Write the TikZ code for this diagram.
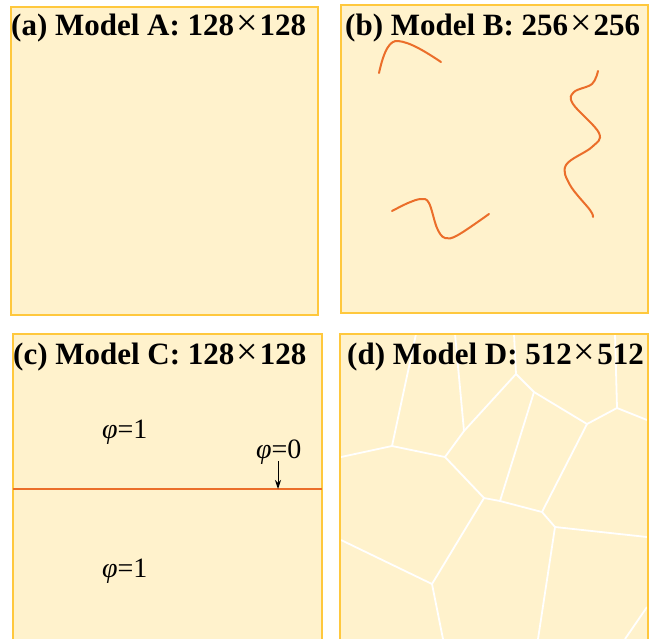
\documentclass[tikz,border=0pt]{standalone}
\usepackage{fontspec}
\setmainfont{Liberation Serif}
\usetikzlibrary{arrows.meta}
\definecolor{panelfill}{HTML}{FFF2CC}
\definecolor{panelborder}{HTML}{FFC83D}
\definecolor{curveorange}{HTML}{EB6E2A}
\tikzset{
  panel/.style={fill=panelfill, draw=panelborder, line width=1.8pt},
  paneltitle/.style={anchor=base west, inner sep=0pt, font=\fontsize{31}{31}\selectfont\bfseries},
  philabel/.style={anchor=base west, inner sep=0pt, font=\fontsize{28}{28}\selectfont},
  crack/.style={draw=curveorange, line width=2pt, line cap=round},
  grain/.style={draw=white, line width=1.8pt, line join=round},
}
\newcommand{\timesx}{\kern2pt{\mdseries\fontsize{38}{38}\selectfont ×}\kern2pt}
\begin{document}
\begin{tikzpicture}[x=1pt,y=-1pt]
\useasboundingbox (0,0) rectangle (655,638);
% (a)
\path[panel] (11,7) rectangle (318,315);
\node[paneltitle] (ta) at (11,35) {(a) Model A: 128\timesx128};
% (b)
\path[panel] (341,5) rectangle (648,313);
\draw[crack] (379,73) .. controls (384,50) and (390,40) .. (398,41) .. controls (410,42) and (426,52) .. (441,62);
\draw[crack] plot[smooth, tension=0.6] coordinates {(598,71) (592,84) (574,92) (573,104) (599,133) (592,147) (566,165) (570,185) (590,210) (593,217)};
\draw[crack] plot[smooth, tension=0.6] coordinates {(392,211) (408,203) (421,199) (429,203) (437,228) (445,238) (458,235) (489,214)};
\node[paneltitle] (tb) at (345,35) {(b) Model B: 256\timesx256};
% (c)
\fill[panelfill] (13,334) rectangle (322,639);
\draw[panelborder, line width=1.8pt] (13,639) -- (13,334) -- (322,334) -- (322,639);
\draw[curveorange, line width=2pt] (13,489) -- (322,489) coordinate (lineR);
\coordinate (lineL) at (13,489);
\node[paneltitle] (tc) at (13,364) {(c) Model C: 128\timesx128};
\node[philabel] (p1) at (102,438) {\textit{φ}=1};
\node[philabel] (p2) at (102,577) {\textit{φ}=1};
\node[philabel] (p0) at (256,458) {\textit{φ}=0};
\coordinate (arrS) at (278,461);
\draw[-{Stealth[length=9pt,width=6pt]}, line width=0.9pt] (arrS) -- (arrS |- lineL);
% (d)
\fill[panelfill] (340,334) rectangle (648,639);
\coordinate (V1) at (516,374);
\coordinate (V2) at (534,392);
\coordinate (V3) at (587,424);
\coordinate (V4) at (617,408);
\coordinate (V5) at (464,431);
\coordinate (V6) at (445,457);
\coordinate (V7) at (392,446);
\coordinate (V8) at (484,498);
\coordinate (V9) at (500,501);
\coordinate (V10) at (542,512);
\coordinate (V11) at (555,527);
\coordinate (V12) at (432,584);
\draw[grain] (514,334) -- (V1) -- (V2) -- (V3) -- (V4) -- (615,334);
\draw[grain] (V4) -- (647,420);
\draw[grain] (455,334) -- (V5);
\draw[grain] (V1) -- (V5) -- (V6) -- (V7) -- (416,334);
\draw[grain] (V7) -- (341,457);
\draw[grain] (V6) -- (V8) -- (V9) -- (V10) -- (V11) -- (647,537);
\draw[grain] (V9) -- (V2);
\draw[grain] (V10) -- (V3);
\draw[grain] (V11) -- (538,639);
\draw[grain] (V8) -- (V12) -- (341,540);
\draw[grain] (V12) -- (443,639);
\draw[grain] (647,607) -- (625,639);
\draw[panelborder, line width=1.8pt] (340,639) -- (340,334) -- (648,334) -- (648,639);
\node[paneltitle] (td) at (347,364) {(d) Model D: 512\timesx512};
\end{tikzpicture}
\end{document}
